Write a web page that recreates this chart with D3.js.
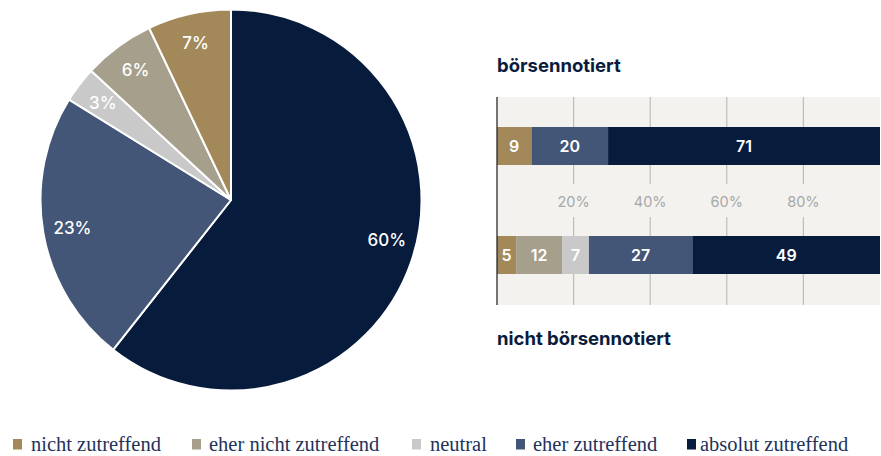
<!DOCTYPE html>
<html><head><meta charset="utf-8">
<script src="https://cdn.jsdelivr.net/npm/d3@7"></script>
<style>body{margin:0;background:#fff}svg{display:block}</style>
</head><body>
<svg id="c" width="881" height="456"></svg>
<script>
const categories = ["nicht zutreffend","eher nicht zutreffend","neutral","eher zutreffend","absolut zutreffend"];
const colors = ["#a3895a","#a69f8b","#c9c9c9","#435677","#071b3d"];
const pieValues = [7,6,3,23,60];
const groups = ["börsennotiert","nicht börsennotiert"];
const barListed = [9,0,0,20,71];
const barUnlisted = [5,12,7,27,49];
const ticks = [20,40,60,80];

const svg = d3.select("#c");
const font = "Inter, 'Noto Sans', sans-serif";

// Pie
const cx = 231, cy = 200, R = 190.5;
const pieData = categories.map((c,i)=>({c, v:pieValues[i], col:colors[i]}));
const order = [4,3,2,1,0];
const pie = d3.pie().sort(null).value(d=>d.v);
const arcs = pie(order.map(i=>pieData[i]));
const arc = d3.arc().innerRadius(0).outerRadius(R);
const gp = svg.append("g").attr("transform",`translate(${cx},${cy})`);
gp.selectAll("path").data(arcs).join("path")
  .attr("d",arc).attr("fill",d=>d.data.col).attr("stroke","#fff").attr("stroke-width",2).attr("stroke-linejoin","round");
gp.selectAll("text").data(arcs).join("text")
  .attr("transform",d=>{
    const a = (d.startAngle+d.endAngle)/2 - (d.endAngle-d.startAngle > 3 ? 0.08 : 0);
    return `translate(${161*Math.sin(a)},${-161*Math.cos(a)})`;
  })
  .attr("text-anchor","middle").attr("dy","0.36em")
  .attr("fill","#fff").attr("font-family",font).attr("font-weight",500).attr("font-size",17)
  .text(d=>d.data.v+"%");

// Bars
const x = d3.scaleLinear().domain([0,100]).range([497,880]);
const panelTop = 97, panelBot = 305;
svg.append("rect").attr("x",x(0)).attr("y",panelTop).attr("width",x(100)-x(0)).attr("height",panelBot-panelTop).attr("fill","#f3f2ee");
const barY = [127,236], barH = 38;
const labelY = 202;
const gg = svg.append("g");
ticks.forEach(t=>{
  gg.append("line").attr("x1",x(t)).attr("x2",x(t)).attr("y1",panelTop).attr("y2",labelY-18).attr("stroke","#bdbdbd").attr("stroke-width",1.2);
  gg.append("line").attr("x1",x(t)).attr("x2",x(t)).attr("y1",labelY+15).attr("y2",panelBot).attr("stroke","#bdbdbd").attr("stroke-width",1.2);
  gg.append("text").attr("x",x(t)).attr("y",labelY).attr("dy","0.36em").attr("text-anchor","middle")
    .attr("fill","#a8a8a8").attr("font-family",font).attr("font-size",14.5).text(t+"%");
});
[barListed, barUnlisted].forEach((vals,gi)=>{
  let acc = 0;
  vals.forEach((v,i)=>{
    if(v<=0) return;
    const x0 = x(acc), x1 = x(acc+v);
    svg.append("rect").attr("x",x0).attr("y",barY[gi]).attr("width",x1-x0).attr("height",barH).attr("fill",colors[i]);
    svg.append("text").attr("x",(x0+x1)/2).attr("y",barY[gi]+barH/2).attr("dy","0.36em").attr("text-anchor","middle")
      .attr("fill","#fff").attr("font-family",font).attr("font-weight",600).attr("font-size",16).text(v);
    acc += v;
  });
});
svg.append("line").attr("x1",x(0)).attr("x2",x(0)).attr("y1",panelTop).attr("y2",panelBot).attr("stroke","#1a1a1a").attr("stroke-width",1.2);

svg.append("text").attr("x",497).attr("y",72).attr("fill","#0a1c3d").attr("font-family",font).attr("font-weight",700).attr("font-size",18.5).text(groups[0]);
svg.append("text").attr("x",497).attr("y",345).attr("fill","#0a1c3d").attr("font-family",font).attr("font-weight",700).attr("font-size",18.5).text(groups[1]);

// Legend
const sqX = [13,192,412,516,687];
const txX = [31,209,430,533,700];
const lg = svg.append("g");
categories.forEach((c,i)=>{
  lg.append("rect").attr("x",sqX[i]).attr("y",439).attr("width",9).attr("height",10.5).attr("fill",colors[i]);
  lg.append("text").attr("x",txX[i]).attr("y",451).attr("fill","#23325a")
    .attr("font-family","'Liberation Serif', 'DejaVu Serif', serif").attr("font-size",20.5).text(c);
});
</script>
</body></html>
